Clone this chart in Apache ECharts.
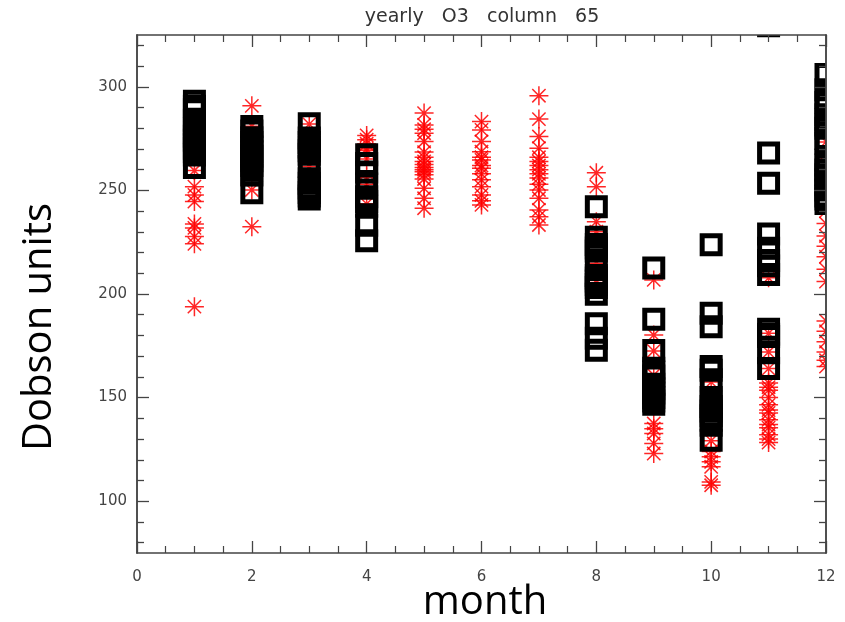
<!DOCTYPE html>
<html>
<head>
<meta charset="utf-8">
<script src="https://cdn.jsdelivr.net/npm/echarts@6/dist/echarts.min.js"></script>
<style>
  html, body { margin: 0; padding: 0; background: #fff; }
  #chart { width: 845px; height: 622px; }
</style>
</head>
<body>
<div id="chart"></div>
<script>
// Monthly total ozone columns (Dobson units).
// Red asterisks: one set of yearly values; black squares: the other.
const months = [1, 2, 3, 4, 5, 6, 7, 8, 9, 10, 11, 12];

const stars01 = [283.7, 275, 269.4, 259.6, 251.8, 247.8, 244.6, 233.8, 231.9, 227.7, 224.2, 193.9];
const stars02 = [290.8, 281, 250.2, 232.5];
const stars03 = [282, 261.5];
const stars04 = [276.5, 274.5, 272.5, 270, 269.2, 265.1, 256.4, 253.0, 243.5];
const stars05 = [287.3, 281.6, 279.5, 277.6, 273.6, 268.5, 266, 264, 262.5, 261, 260, 259, 257.5, 255.5, 251, 246.2, 241.4];
const stars06 = [283.2, 279.2, 273.6, 268.7, 266, 264.7, 262, 260.7, 258, 255.1, 251.8, 247.8, 245, 243];
const stars07 = [295.7, 284.4, 276, 270.4, 266, 264, 262, 260, 258, 256, 253, 250.2, 246.2, 240.6, 237.3, 233.3];
const stars08 = [258.5, 251.8, 234.9, 230.1, 214.9, 205.5];
const stars09 = [206.8, 180.2, 172.5, 160.9, 137.5, 135, 132.7, 127.9, 123];
const stars10 = [157.5, 129.2, 124, 121.4, 119, 116.6, 109.3, 107.7];
const stars11 = [207.8, 181, 172, 164, 157, 155, 153.6, 150, 146.5, 144, 142.6, 139.3, 137, 135.5, 132.1, 130, 128.3];
const stars12 = [273.4, 267.6, 240, 234, 228, 223, 218, 212, 206, 187, 182, 177, 172, 168, 165];

const boxes01 = [293.0, 290.6, 288.9, 283.8, 281.9, 279.9, 278.0, 276.1, 274.2, 272.2, 270.3, 268.6, 267.1, 261.1];
const boxes02 = [280.9, 278.7, 275.4, 273.1, 270.9, 268.7, 266.5, 264.3, 262.0, 259.8, 257.4, 248.9];
const boxes03 = [282.2, 275.3, 273.1, 271.0, 269.1, 267.4, 261.5, 255.6, 253.4, 251.2, 249.0, 247.3, 245.8];
const boxes04 = [267.2, 263.0, 258.9, 253.1, 246.9, 244.7, 242.3, 233.2, 225.7];
const boxes05 = [];
const boxes06 = [];
const boxes07 = [];
const boxes08 = [242.1, 227.4, 223.9, 222.2, 220.8, 216.3, 208.9, 207.7, 206.3, 204.6, 203.1, 199.9, 185.6, 178.6, 172.9];
const boxes09 = [212.6, 187.8, 172.7, 164.2, 162.3, 160.4, 156.5, 154.3, 152.2, 150.0, 148.3, 146.8];
const boxes10 = [223.8, 190.7, 184.2, 165.0, 163.2, 158.6, 150.0, 147.8, 145.7, 143.5, 141.3, 139.1, 136.6, 129.4];
const boxes11 = [329.5, 268.1, 253.4, 228.9, 222.1, 216.2, 213.6, 209.4, 183.0, 180.6, 179.5, 171.6, 164.0];
const boxes12 = [305.9, 298.6, 294.8, 292.4, 286.5, 284.1, 281.6, 280.0, 275.1, 272.7, 264.7, 262.3, 259.9, 257.5, 255.1, 252.7, 250.2, 247.3, 245.9, 243.7];

const yMajorTicks = [100, 150, 200, 250, 300];
const yMinorTicks = [80, 90, 110, 120, 130, 140, 160, 170, 180, 190, 210, 220, 230, 240, 260, 270, 280, 290, 310, 320];

const titleText = 'yearly   O3   column   65';
const xTitle = 'month';
const yTitle = 'Dobson units';

const starSets = [stars01, stars02, stars03, stars04, stars05, stars06, stars07, stars08, stars09, stars10, stars11, stars12];
const boxSets = [boxes01, boxes02, boxes03, boxes04, boxes05, boxes06, boxes07, boxes08, boxes09, boxes10, boxes11, boxes12];

function toPairs(sets) {
  const out = [];
  sets.forEach((vals, i) => vals.forEach(v => out.push([months[i], v])));
  return out;
}

const AX = '#444';
const tickFont = { fontFamily: 'DejaVu Sans', fontSize: 15, color: '#444' };

function xAxisDef(pos, labels) {
  return {
    type: 'value', position: pos, min: 0, max: 12, interval: 2, z: 10,
    axisLine: { show: true, onZero: false, lineStyle: { color: AX, width: 1.5 } },
    axisTick: { show: true, inside: true, length: 12, lineStyle: { color: AX, width: 1.3 } },
    minorTick: { show: true, splitNumber: 4, length: 7, lineStyle: { color: AX, width: 1.2 } },
    axisLabel: Object.assign({ show: labels, margin: 17 }, tickFont),
    splitLine: { show: false }
  };
}
function yAxisDef(pos, ticks, len, labels) {
  return {
    type: 'value', position: pos, min: 75, max: 325, z: 10,
    axisLine: { show: true, onZero: false, lineStyle: { color: AX, width: 1.5 } },
    axisTick: { show: true, inside: true, length: len, customValues: ticks, lineStyle: { color: AX, width: 1.3 } },
    axisLabel: Object.assign({ show: labels, margin: 10, customValues: ticks }, tickFont),
    splitLine: { show: false }
  };
}

const starPath = 'path://M10 0L10 20M0 10L20 10M3 3L17 17M3 17L17 3';

const chart = echarts.init(document.getElementById('chart'), null, { renderer: 'canvas' });
chart.setOption({
  animation: false,
  backgroundColor: '#fff',
  grid: { left: 137, right: 19, top: 35, bottom: 69 },
  xAxis: [xAxisDef('bottom', true), xAxisDef('top', false)],
  yAxis: [
    yAxisDef('left', yMajorTicks, 12, true),
    yAxisDef('left', yMinorTicks, 7, false),
    yAxisDef('right', yMajorTicks, 12, false),
    yAxisDef('right', yMinorTicks, 7, false)
  ],
  series: [
    {
      type: 'scatter', xAxisIndex: 0, yAxisIndex: 0, silent: true, clip: false,
      symbol: starPath, symbolSize: 19,
      itemStyle: { color: 'transparent', borderColor: 'rgba(255,0,0,0.85)', borderWidth: 1.5, opacity: 1 },
      data: toPairs(starSets)
    },
    {
      type: 'scatter', xAxisIndex: 0, yAxisIndex: 0, silent: true, clip: false,
      symbol: 'rect', symbolSize: 18,
      itemStyle: { color: 'transparent', borderColor: '#000', borderWidth: 5, opacity: 1 },
      data: toPairs(boxSets)
    }
  ],
  graphic: [
    // mask outside the plotting frame so marks on the edge are cut off
    { type: 'rect', z: 5, silent: true, shape: { x: 826, y: 0, width: 19, height: 622 }, style: { fill: '#fff' } },
    { type: 'rect', z: 5, silent: true, shape: { x: 0, y: 0, width: 845, height: 35 }, style: { fill: '#fff' } },
    { type: 'text', z: 20, x: 482, y: 17, style: { text: titleText, fontFamily: 'DejaVu Sans', fontSize: 19, fill: '#333', align: 'center', verticalAlign: 'middle' } },
    { type: 'text', z: 20, x: 485, y: 603, style: { text: xTitle, fontFamily: 'Open Sans', fontSize: 40, fill: '#000', align: 'center', verticalAlign: 'middle' } },
    { type: 'text', z: 20, x: 40, y: 327, rotation: Math.PI / 2, style: { text: yTitle, fontFamily: 'Open Sans', fontSize: 40, fill: '#000', align: 'center', verticalAlign: 'middle' } }
  ]
});
</script>
</body>
</html>
